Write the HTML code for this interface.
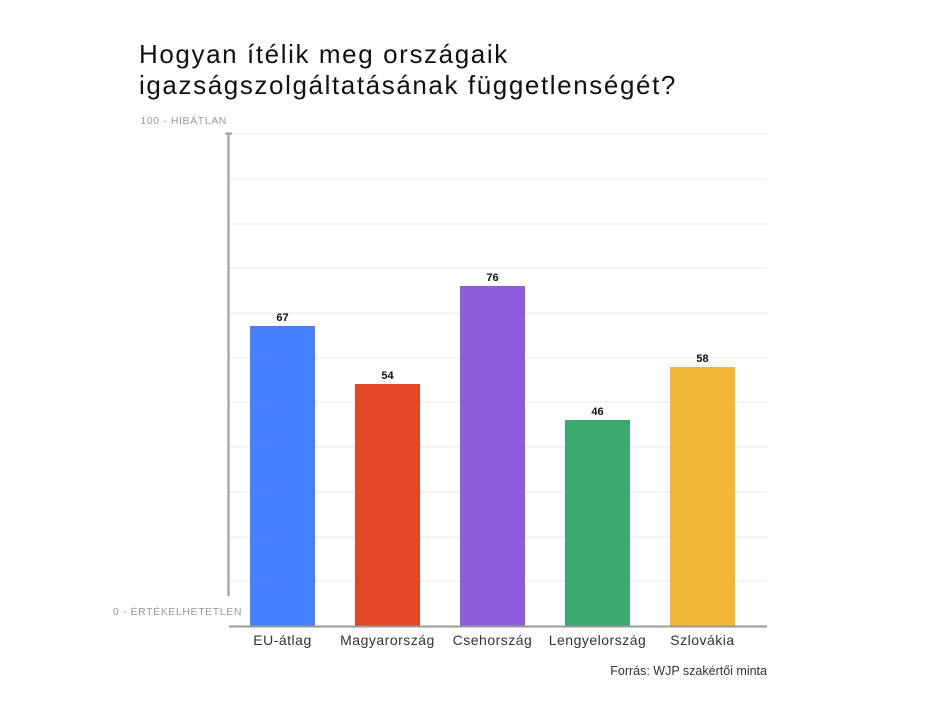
<!DOCTYPE html>
<html><head><meta charset="utf-8"><style>
body{margin:0;width:933px;height:700px;background:#fff;overflow:hidden;font-family:"Liberation Sans",sans-serif}
</style></head><body>
<svg width="933" height="700" xmlns="http://www.w3.org/2000/svg" font-family="Liberation Sans, sans-serif">
<text x="139" y="63" font-size="26" fill="#111" letter-spacing="1.6">Hogyan ítélik meg országaik</text>
<text x="139" y="94" font-size="26" fill="#111" letter-spacing="1.6">igazságszolgáltatásának függetlenségét?</text>
<g stroke="#e8e8e8" stroke-width="1">
<line x1="229" y1="134" x2="767" y2="134"/><line x1="229" y1="179" x2="767" y2="179"/>
<line x1="229" y1="224" x2="767" y2="224"/><line x1="229" y1="268" x2="767" y2="268"/>
<line x1="229" y1="313" x2="767" y2="313"/><line x1="229" y1="358" x2="767" y2="358"/>
<line x1="229" y1="402" x2="767" y2="402"/><line x1="229" y1="447" x2="767" y2="447"/>
<line x1="229" y1="492" x2="767" y2="492"/><line x1="229" y1="537" x2="767" y2="537"/>
<line x1="229" y1="581" x2="767" y2="581"/>
</g>
<line x1="228.5" y1="133" x2="228.5" y2="596" stroke="#999" stroke-width="2"/>
<line x1="225" y1="133.5" x2="232" y2="133.5" stroke="#999" stroke-width="2"/>
<text x="227" y="124" font-size="10.5" fill="#999" text-anchor="end" letter-spacing="0.6">100 - HIBÁTLAN</text>
<text x="242" y="615" font-size="10.5" fill="#999" text-anchor="end" letter-spacing="0.6">0 - ÉRTÉKELHETETLEN</text>
<rect x="250" y="326" width="65" height="300" fill="#4680fd"/>
<rect x="355" y="384" width="65" height="242" fill="#e24626"/>
<rect x="460" y="286" width="65" height="340" fill="#8e5ddd"/>
<rect x="565" y="420" width="65" height="206" fill="#3aaa70"/>
<rect x="670" y="367" width="65" height="259" fill="#f2b736"/>
<g font-size="11" font-weight="bold" text-anchor="middle" fill="#111">
<text x="282.5" y="321">67</text><text x="387.5" y="379">54</text><text x="492.5" y="281">76</text>
<text x="597.5" y="415">46</text><text x="702.5" y="362">58</text>
</g>
<line x1="229" y1="626.5" x2="767" y2="626.5" stroke="#999" stroke-width="2"/>
<g font-size="14" text-anchor="middle" fill="#333" letter-spacing="0.5">
<text x="282.5" y="645">EU-átlag</text><text x="387.5" y="645">Magyarország</text>
<text x="492.5" y="645">Csehország</text><text x="597.5" y="645">Lengyelország</text>
<text x="702.5" y="645">Szlovákia</text>
</g>
<text x="767" y="675" font-size="12.5" fill="#333" text-anchor="end">Forrás: WJP szakértői minta</text>
</svg>
</body></html>
